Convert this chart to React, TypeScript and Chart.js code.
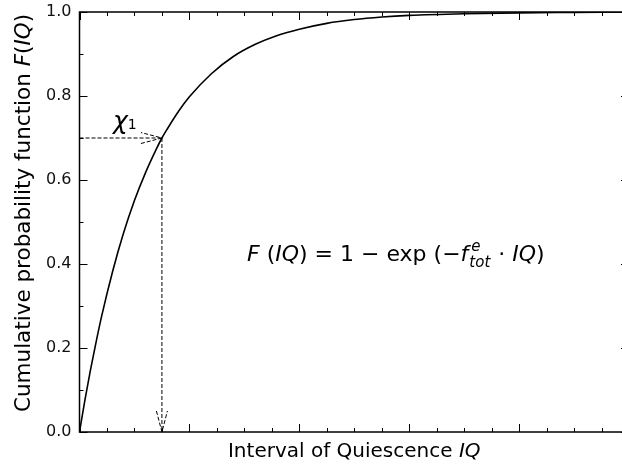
import { useEffect, useRef } from 'react';
import { Chart, registerables } from 'chart.js';

Chart.register(...registerables);

// Interval of quiescence (x) and cumulative probability F(IQ) (y)
const iqValues = [0, 0.05, 0.1, 0.15, 0.2, 0.3, 0.4, 0.5, 0.6, 0.7, 0.75, 0.8, 0.9, 1.0, 1.2, 1.4, 1.6, 1.8, 2.0, 2.25, 2.5, 2.75, 3.0, 3.5, 4.0, 4.5, 5.0];
const cdfValues = [0, 0.077, 0.148, 0.213, 0.274, 0.381, 0.473, 0.551, 0.617, 0.674, 0.7, 0.722, 0.763, 0.798, 0.853, 0.894, 0.923, 0.944, 0.959, 0.973, 0.982, 0.988, 0.992, 0.996, 0.998, 0.999, 1.0];

// Marked quantile chi_1
const chiIQ = 0.75;
const chiLevel = 0.7;

const xRange = [0, 5];
const yRange = [0, 1];
const xStep = 0.25;
const yStep = 0.1;

const FONT = '"DejaVu Sans", sans-serif';

type Run = { t: string; it?: boolean; size?: number; dy?: number };

function runWidth(ctx: CanvasRenderingContext2D, runs: Run[], base: number) {
  let w = 0;
  for (const r of runs) {
    ctx.font = `${r.it ? 'italic ' : ''}${r.size ?? base}px ${FONT}`;
    w += ctx.measureText(r.t).width;
  }
  return w;
}

function drawRuns(ctx: CanvasRenderingContext2D, runs: Run[], x: number, y: number, base: number) {
  let cx = x;
  for (const r of runs) {
    ctx.font = `${r.it ? 'italic ' : ''}${r.size ?? base}px ${FONT}`;
    ctx.fillText(r.t, cx, y + (r.dy ?? 0));
    cx += ctx.measureText(r.t).width;
  }
  return cx;
}

function arrow(ctx: CanvasRenderingContext2D, x0: number, y0: number, x1: number, y1: number) {
  const ang = Math.atan2(y1 - y0, x1 - x0);
  const hl = 21;
  const hw = 5.5;
  ctx.beginPath();
  ctx.moveTo(x0, y0);
  ctx.lineTo(x1, y1);
  const bx = x1 - hl * Math.cos(ang);
  const by = y1 - hl * Math.sin(ang);
  const nx = -Math.sin(ang) * hw;
  const ny = Math.cos(ang) * hw;
  ctx.moveTo(bx + nx, by + ny);
  ctx.lineTo(x1, y1);
  ctx.lineTo(bx - nx, by - ny);
  ctx.stroke();
}

const framePlugin = {
  id: 'frame',
  afterDraw(chart: any) {
    const { ctx, chartArea: a, scales } = chart;
    const xs = scales.x;
    const ys = scales.y;
    ctx.save();

    // inward ticks on all four sides
    ctx.strokeStyle = '#000';
    ctx.lineWidth = 1;
    ctx.beginPath();
    for (const t of xs.ticks) {
      const px = Math.round(xs.getPixelForValue(t.value)) + 0.5;
      const major = Math.abs(t.value - Math.round(t.value)) < 1e-6;
      const len = major ? 8 : 4;
      ctx.moveTo(px, a.bottom);
      ctx.lineTo(px, a.bottom - len);
      ctx.moveTo(px, a.top);
      ctx.lineTo(px, a.top + len);
    }
    for (const t of ys.ticks) {
      const py = Math.round(ys.getPixelForValue(t.value)) + 0.5;
      const major = Math.round(t.value * 10) % 2 === 0;
      const len = major ? 8 : 4;
      ctx.moveTo(a.left, py);
      ctx.lineTo(a.left + len, py);
      ctx.moveTo(a.right, py);
      ctx.lineTo(a.right - len, py);
    }
    ctx.stroke();

    // frame
    ctx.lineWidth = 1.5;
    ctx.strokeRect(a.left, a.top, a.right - a.left, a.bottom - a.top);

    // chi_1 guide arrows
    const px = xs.getPixelForValue(chiIQ);
    const py = ys.getPixelForValue(chiLevel);
    ctx.lineWidth = 1;
    ctx.setLineDash([4, 2]);
    arrow(ctx, a.left, py, px, py);
    arrow(ctx, px, py, px, ys.getPixelForValue(0));
    ctx.setLineDash([]);

    ctx.fillStyle = '#000';
    ctx.textBaseline = 'alphabetic';
    ctx.textAlign = 'left';

    // chi_1 label
    drawRuns(ctx, [{ t: 'χ', it: true, size: 25 }, { t: '1', size: 14 }], 113, 129, 22);

    // formula
    const fBase = 22;
    const fy = 261;
    let cx = drawRuns(ctx, [
      { t: 'F', it: true },
      { t: ' (' },
      { t: 'IQ', it: true },
      { t: ') = 1 − exp (−' },
      { t: 'f', it: true },
    ], 247, fy, fBase);
    ctx.font = `italic 15px ${FONT}`;
    const we = ctx.measureText('e').width;
    const wt = ctx.measureText('tot').width;
    ctx.fillText('e', cx + 3, fy - 10);
    ctx.fillText('tot', cx + 1, fy + 6);
    cx += Math.max(we + 3, wt + 1) + 1;
    drawRuns(ctx, [{ t: ' · ' }, { t: 'IQ', it: true }, { t: ')' }], cx, fy, fBase);

    // x title
    const xRuns: Run[] = [{ t: 'Interval of Quiescence ' }, { t: 'IQ', it: true }];
    const xw = runWidth(ctx, xRuns, 20);
    drawRuns(ctx, xRuns, (a.left + a.right) / 2 - xw / 2, 457, 20);

    // y title
    const yRuns: Run[] = [
      { t: 'Cumulative probability function ' },
      { t: 'F', it: true },
      { t: '(' },
      { t: 'IQ', it: true },
      { t: ')' },
    ];
    const yw = runWidth(ctx, yRuns, 21.5);
    ctx.translate(30, 213);
    ctx.rotate(-Math.PI / 2);
    drawRuns(ctx, yRuns, -yw / 2, 0, 21.5);

    ctx.restore();
  },
};

export default function App() {
  const ref = useRef<HTMLCanvasElement>(null);

  useEffect(() => {
    document.body.style.overflow = 'hidden';
    const canvas = ref.current!;
    const chart = new Chart(canvas, {
      type: 'line',
      data: {
        datasets: [
          {
            data: iqValues.map((v, i) => ({ x: v, y: cdfValues[i] })),
            borderColor: '#000',
            borderWidth: 1.6,
            pointRadius: 0,
            cubicInterpolationMode: 'monotone',
            fill: false,
          },
        ],
      },
      options: {
        animation: false,
        responsive: false,
        devicePixelRatio: 1,
        layout: { padding: { top: 12, right: 11, left: 0, bottom: 0 } },
        plugins: { legend: { display: false }, tooltip: { enabled: false } },
        scales: {
          x: {
            type: 'linear',
            min: xRange[0],
            max: xRange[1],
            grid: { display: false },
            border: { display: false },
            ticks: { stepSize: xStep, autoSkip: false, callback: () => '' },
            afterFit: (s: any) => {
              s.height = 32;
              s.paddingLeft = 0;
              s.paddingRight = 0;
            },
          },
          y: {
            type: 'linear',
            min: yRange[0],
            max: yRange[1],
            grid: { display: false, drawTicks: false },
            border: { display: false },
            ticks: {
              stepSize: yStep,
              autoSkip: false,
              padding: 8,
              color: '#111',
              font: { family: FONT, size: 16 },
              callback: (v: any) => (Math.round(Number(v) * 10) % 2 === 0 ? Number(v).toFixed(1) : ''),
            },
            afterFit: (s: any) => {
              s.width = 79.5;
              s.paddingTop = 0;
              s.paddingBottom = 0;
            },
          },
        },
      },
      plugins: [framePlugin],
    });
    return () => chart.destroy();
  }, []);

  return (
    <div style={{ position: 'fixed', left: 0, top: 0, width: 640, height: 464, overflow: 'hidden', background: '#fff' }}>
      <canvas ref={ref} width={640} height={464} style={{ display: 'block', width: 640, height: 464 }} />
    </div>
  );
}
